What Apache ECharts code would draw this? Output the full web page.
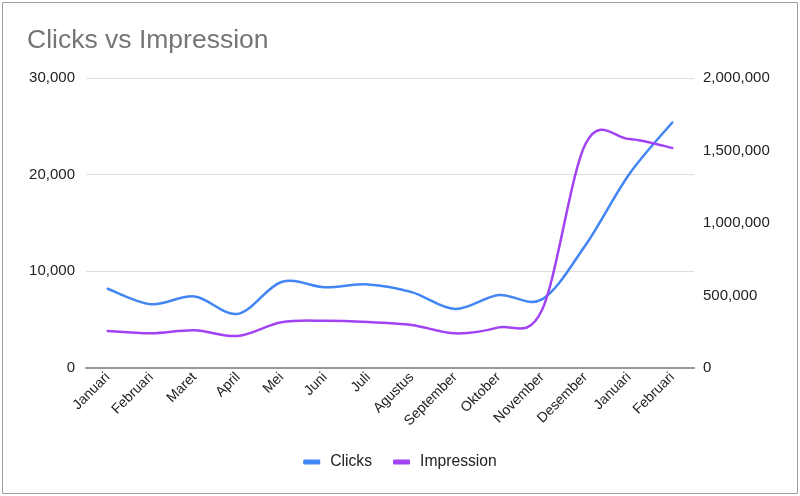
<!DOCTYPE html>
<html>
<head>
<meta charset="utf-8">
<script src="https://cdn.jsdelivr.net/npm/echarts@6/dist/echarts.min.js"></script>
<style>
html,body{margin:0;padding:0;background:#fff;}
#chart{width:800px;height:496px;}
</style>
</head>
<body>
<div id="chart"></div>
<script>
const categories = ["Januari","Februari","Maret","April","Mei","Juni","Juli","Agustus","September","Oktober","November","Desember","Januari","Februari"];
const clicks = [8200, 6600, 7400, 5600, 8900, 8350, 8650, 7850, 6100, 7550, 7100, 12700, 20000, 25400];
const impression = [255000, 239000, 260000, 221000, 315000, 326000, 317000, 297000, 239000, 280000, 400000, 1545000, 1580000, 1517000];
const leftTicks = {min: 0, max: 30000, interval: 10000};
const rightTicks = {min: 0, max: 2000000, interval: 500000};

const FONT = "Liberation Sans, Arial, Helvetica, sans-serif";
const BLUE = '#4285f4', PURPLE = '#a142f4';

// Catmull-Rom style smoothing through pixel coordinates given by the chart's own scales
function smoothPath(pts) {
  let d = 'M' + pts[0][0] + ',' + pts[0][1];
  for (let i = 0; i < pts.length - 1; i++) {
    const p0 = pts[i - 1] || pts[i], p1 = pts[i], p2 = pts[i + 1], p3 = pts[i + 2] || pts[i + 1];
    const c1x = p1[0] + (p2[0] - p0[0]) / 6, c1y = p1[1] + (p2[1] - p0[1]) / 6;
    const c2x = p2[0] - (p3[0] - p1[0]) / 6, c2y = p2[1] - (p3[1] - p1[1]) / 6;
    d += ' C' + c1x + ',' + c1y + ' ' + c2x + ',' + c2y + ' ' + p2[0] + ',' + p2[1];
  }
  return d;
}
function curveSeries(name, values, axisIndex, color) {
  return {
    name: name, type: 'custom', yAxisIndex: axisIndex,
    data: values.map((v, i) => [i, v]),
    encode: {x: 0, y: 1},
    itemStyle: {color: color},
    clip: false,
    renderItem: function (params, api) {
      if (params.dataIndex !== 0) return null;
      const pts = values.map((v, i) => api.coord([i, v]));
      return {
        type: 'path',
        shape: {pathData: smoothPath(pts)},
        style: {fill: 'none', stroke: color, lineWidth: 2.5, lineJoin: 'round', lineCap: 'round'}
      };
    }
  };
}

const chart = echarts.init(document.getElementById('chart'), null, {renderer: 'canvas'});
chart.setOption({
  animation: false,
  backgroundColor: '#fff',
  title: {
    text: 'Clicks vs Impression',
    left: 27, top: 27, padding: 0,
    textStyle: {fontFamily: FONT, fontSize: 26.5, fontWeight: 'normal', color: '#757575'}
  },
  graphic: [{
    type: 'rect', silent: true,
    shape: {x: 2.5, y: 2.5, width: 795, height: 491},
    style: {fill: 'none', stroke: '#9e9e9e', lineWidth: 1}
  }],
  legend: {
    top: 449, left: 'center',
    icon: 'roundRect', itemWidth: 17, itemHeight: 5, itemGap: 21,
    textStyle: {fontFamily: FONT, fontSize: 15.7, color: '#222', padding: [0, 0, 0, 5]},
    data: ['Clicks', 'Impression']
  },
  grid: {left: 86, right: 106, top: 78, bottom: 128, containLabel: false},
  xAxis: {
    type: 'category', data: categories, boundaryGap: true,
    axisTick: {show: false},
    axisLine: {lineStyle: {color: '#999', width: 2}},
    axisLabel: {rotate: 45, margin: 7, interval: 0, fontFamily: FONT, fontSize: 14, color: '#222'}
  },
  yAxis: [{
    type: 'value', min: leftTicks.min, max: leftTicks.max, interval: leftTicks.interval,
    axisLine: {show: false}, axisTick: {show: false},
    splitLine: {lineStyle: {color: '#dcdcdc', width: 1}},
    axisLabel: {margin: 11, fontFamily: FONT, fontSize: 15, color: '#222',
      formatter: v => v.toLocaleString('en-US')}
  }, {
    type: 'value', min: rightTicks.min, max: rightTicks.max, interval: rightTicks.interval,
    axisLine: {show: false}, axisTick: {show: false},
    splitLine: {show: false},
    axisLabel: {margin: 9, fontFamily: FONT, fontSize: 15, color: '#222',
      formatter: v => v.toLocaleString('en-US')}
  }],
  series: [
    curveSeries('Clicks', clicks, 0, BLUE),
    curveSeries('Impression', impression, 1, PURPLE)
  ]
});
</script>
</body>
</html>
